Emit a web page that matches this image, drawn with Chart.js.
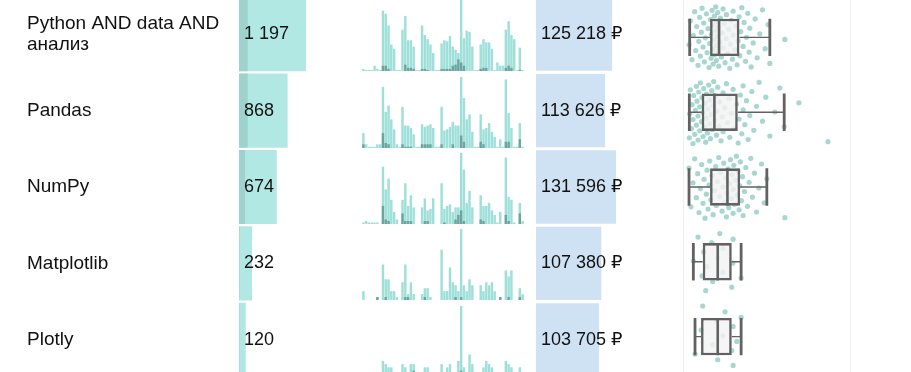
<!DOCTYPE html>
<html>
<head>
<meta charset="utf-8">
<script src="https://cdn.jsdelivr.net/npm/chart.js@4.4.0/dist/chart.umd.min.js"></script>
<style>
html,body{margin:0;padding:0;background:#fff;}
#wrap{position:relative;width:911px;height:372px;overflow:hidden;background:#fff;}
#wrap canvas{position:absolute;}
</style>
</head>
<body>
<div id="wrap"></div>
<script>
// ---------------- DATA ----------------
const categories = ['Python AND data AND анализ', 'Pandas', 'NumPy', 'Matplotlib', 'Plotly'];
const vacancies = [1197, 868, 674, 232, 120];
const vacanciesSubset = [155, 155, 107, 10, 6];
const avgSalary = [125218, 113626, 131596, 107380, 103705];

const dayLabels = Array.from({length: 58}, (_, i) => 'день ' + (i + 1));

const dailyPython = [2,1,1,1,5,2,1, 57,54,43,25,21,1,1, 39,52,29,29,23,1,1, 43,34,30,25,17,1,1, 26,29,28,33,23,20,17, 67,31,38,37,23,1,1, 25,30,27,27,21,1,8, 5,5,39,47,34,30,1, 22,1];
const dailyPythonSub = [0,0,0,0,0,0,0, 5,5,2,0,0,0,0, 0,6,3,3,2,0,0, 2,2,1,0,0,0,0, 2,2,2,2,5,6,11, 8,5,0,0,0,0,0, 2,3,3,0,0,0,0, 0,0,3,5,3,0,0, 1,0];
const dailyPandas = [12,3,1,1,1,3,3, 49,29,34,23,15,3,1, 33,18,18,16,11,1,1, 19,17,18,19,16,1,1, 33,14,15,17,21,18,18, 57,40,23,27,13,1,1, 27,15,16,20,13,9,1, 7,1,55,28,16,1,1, 20,1];
const dailyPandasSub = [3,0,0,0,0,0,0, 12,4,3,0,0,0,0, 3,1,1,1,0,0,0, 3,3,3,3,0,0,0, 3,0,0,0,3,0,0, 10,5,0,0,0,0,0, 5,3,0,0,0,0,0, 0,0,5,5,0,0,0, 7,0];
const dailyNumpy = [1,2,1,1,1,1,0, 38,23,30,16,8,3,0, 16,27,12,19,11,0,0, 11,17,9,10,17,0,0, 27,10,12,13,8,11,11, 47,36,14,22,11,0,0, 19,12,12,14,9,6,1, 8,0,44,18,16,1,0, 14,2];
const dailyNumpySub = [0,0,0,0,0,0,0, 12,3,2,0,0,0,0, 7,2,2,2,0,0,0, 0,2,2,0,0,0,0, 0,1,0,0,0,3,6, 9,2,0,0,0,0,0, 3,2,0,0,0,0,0, 0,0,6,2,0,0,0, 7,0];
const dailyMatplotlib = [3,0,0,0,0,1,0, 12,7,7,3,3,1,0, 6,12,2,6,2,0,0, 2,4,4,1,0,0,0, 17,3,3,11,6,5,3, 24,5,3,7,5,0,0, 5,3,6,5,6,3,0, 1,0,10,8,10,0,0, 4,2];
const dailyMatplotlibSub = [0,0,0,0,0,1,0, 0,1,0,0,0,0,0, 0,1,1,0,0,0,0, 0,1,0,0,0,0,0, 0,0,0,0,0,1,0, 1,0,0,0,0,0,0, 0,0,0,0,0,0,0, 1,0,0,1,0,0,0, 1,0];
const dailyPlotly = [0,0,0,0,0,0,0, 5,4,3,3,0,0,0, 4,3,0,4,4,0,0, 0,3,3,0,0,0,0, 4,0,3,4,0,0,5, 22,3,0,7,4,0,0, 0,3,5,4,3,0,0, 0,0,5,4,3,0,0, 3,0];
const dailyPlotlySub = [0,0,0,0,0,0,0, 0,0,0,1,0,0,0, 0,0,0,0,2,0,0, 0,0,0,0,0,0,0, 0,0,1,0,0,0,0, 2,0,0,0,0,0,0, 0,0,0,0,0,0,0, 0,0,0,0,0,0,0, 0,0];

// box-plot statistics (roubles)
const boxLow = [20000, 19000, 18000, 31000, 36000];
const boxQ1 = [81000, 56000, 81000, 59000, 54000];
const boxMedian = [108000, 94000, 133000, 104000, 104000];
const boxQ3 = [169000, 164000, 171000, 146000, 146000];
const boxHigh = [260000, 303000, 251000, 174000, 174000];

// individual salaries, thousands of roubles
const salPythonK = [18,22,27,31,35,38,41,45,47,50,52,55,57,60,62,64,67,70,72,75,78,80,
  82,84,85,87,89,90,90,92,94,95,96,98,100,100,100,102,104,105,106,107,
  110,112,115,117,120,120,123,126,129,130,134,137,140,142,145,148,150,150,155,158,162,165,168,
  170,173,176,180,183,187,190,194,198,200,204,210,216,222,230,238,246,255,260,305];
const salPandasK = [19,20,22,25,27,30,30,32,35,37,40,40,42,45,45,47,50,50,52,55,
  57,60,60,62,64,66,68,70,70,73,75,77,80,80,82,85,86,88,90,92,
  95,98,100,100,104,108,110,114,118,120,120,125,130,133,138,140,145,150,155,160,
  165,168,172,176,180,180,185,190,195,200,206,212,220,228,238,248,260,275,290,303,347,434];
const salNumpyK = [18,24,30,35,40,44,48,52,56,60,63,66,70,72,75,78,80,
  83,87,90,94,98,100,103,107,110,113,117,120,122,125,128,130,132,
  135,137,140,142,145,147,150,150,152,155,158,160,162,165,168,170,
  172,175,178,180,184,188,193,198,203,208,214,220,227,235,243,251,305];
const salMatplotlibK = [31,45,57,62,68,72,86,89,104,110,120,120,146,149,150,174];
const salPlotlyK = [36,54,59,89,100,104,119,126,146,150,150,161,174];

// ---------------- RENDER ----------------
const FONT = '"Liberation Sans", Arial, "DejaVu Sans", sans-serif';
Chart.defaults.font.family = FONT;
Chart.defaults.color = '#111';

const wrap = document.getElementById('wrap');
function addCanvas(left, top, w, h) {
  const c = document.createElement('canvas');
  c.width = w; c.height = h;
  c.style.left = left + 'px'; c.style.top = top + 'px';
  c.style.width = w + 'px'; c.style.height = h + 'px';
  wrap.appendChild(c);
  return c;
}
const fmt = n => String(n).replace(/\B(?=(\d{3})+(?!\d))/g, ' ');
function wrapLabel(s) {
  const words = s.split(' '); const lines = []; let cur = '';
  for (const w of words) {
    if (cur && (cur + ' ' + w).length > 19) { lines.push(cur); cur = w; }
    else cur = cur ? cur + ' ' + w : w;
  }
  lines.push(cur);
  return lines.length > 1 ? lines : lines[0];
}
const base = {
  responsive: false, maintainAspectRatio: false, animation: false, devicePixelRatio: 1,
  plugins: { legend: { display: false }, tooltip: { enabled: false } },
  events: []
};
function valueLabels(values, format, dx, dsIndex) {
  return {
    id: 'valueLabels',
    afterDatasetsDraw(chart) {
      const { ctx } = chart; const xs = chart.scales.x;
      const meta = chart.getDatasetMeta(dsIndex);
      ctx.save();
      ctx.font = '18px ' + FONT; ctx.fillStyle = '#111';
      ctx.textAlign = 'left'; ctx.textBaseline = 'middle';
      meta.data.forEach((el, i) => ctx.fillText(format(values[i]), xs.getPixelForValue(0) + dx, el.y));
      ctx.restore();
    }
  };
}

const TOP = -4, H = 382, PITCH = H / categories.length;

// Column 1+2: labels + vacancy counts
new Chart(addCanvas(0, TOP, 351, H), {
  type: 'bar',
  data: { labels: categories, datasets: [
    { data: vacanciesSubset, backgroundColor: '#9ed2cd', grouped: false, order: 0, barPercentage: 0.97, categoryPercentage: 1 },
    { data: vacancies, backgroundColor: '#b1e8e3', grouped: false, order: 1, barPercentage: 0.97, categoryPercentage: 1 }
  ]},
  options: Object.assign({}, base, {
    indexAxis: 'y',
    layout: { padding: { left: 27, right: 0, top: 0, bottom: 0 } },
    scales: {
      x: { display: false, min: 0, max: 2000 },
      y: { grid: { display: false }, border: { display: false },
        afterFit: s => { s.width = 212; s.paddingTop = 0; s.paddingBottom = 0; },
        ticks: { autoSkip: false, crossAlign: 'far', padding: 0, color: '#111',
          font: { size: 19, lineHeight: 1.1 }, callback: (v, i) => wrapLabel(categories[i]) } }
    }
  }),
  plugins: [valueLabels(vacancies, fmt, 5, 1)]
});

// Column 3: daily histograms
const dailyAll = [dailyPython, dailyPandas, dailyNumpy, dailyMatplotlib, dailyPlotly];
const dailySub = [dailyPythonSub, dailyPandasSub, dailyNumpySub, dailyMatplotlibSub, dailyPlotlySub];
dailyAll.forEach((arr, r) => {
  const top = Math.round(TOP + PITCH * r + 4.2);
  new Chart(addCanvas(362, top, 162, 71), {
    type: 'bar',
    data: { labels: dayLabels, datasets: [
      { data: dailySub[r], backgroundColor: 'rgba(95,150,144,0.8)', grouped: false, order: 0, barPercentage: 0.88, categoryPercentage: 1 },
      { data: arr, backgroundColor: '#9ee0d9', grouped: false, order: 1, barPercentage: 0.88, categoryPercentage: 1 }
    ]},
    options: Object.assign({}, base, {
      layout: { padding: 0 },
      scales: { x: { display: false }, y: { display: false, min: 0, max: Math.max(...arr) } }
    })
  });
});

// Column 4: average salary
new Chart(addCanvas(536, TOP, 146, H), {
  type: 'bar',
  data: { labels: categories, datasets: [
    { data: avgSalary, backgroundColor: '#cfe2f3', barPercentage: 0.96, categoryPercentage: 1 }
  ]},
  options: Object.assign({}, base, {
    indexAxis: 'y',
    layout: { padding: 0 },
    scales: { x: { display: false, min: 0, max: 240000 }, y: { display: false } }
  }),
  plugins: [valueLabels(avgSalary, v => fmt(v) + ' ₽', 5, 0)]
});

// Column 5: box plots with jittered salaries
const salaryPoints = [salPythonK, salPandasK, salNumpyK, salMatplotlibK, salPlotlyK];
const jitter = (k, r) => ((((k + 1) * 0.6180339887 + r * 0.29) % 1) - 0.5) * 0.84;
const pts = [];
salaryPoints.forEach((arr, r) => arr.forEach((v, k) => pts.push({ x: v * 1000, y: r + jitter(k, r) })));
const gap = { x: null, y: null };
const whiskers = [], caps = [], medians = [];
categories.forEach((_, r) => {
  whiskers.push({ x: boxLow[r], y: r }, { x: boxQ1[r], y: r }, gap, { x: boxQ3[r], y: r }, { x: boxHigh[r], y: r }, gap);
  caps.push({ x: boxLow[r], y: r - 0.25 }, { x: boxLow[r], y: r + 0.25 }, gap, { x: boxHigh[r], y: r - 0.25 }, { x: boxHigh[r], y: r + 0.25 }, gap);
  medians.push({ x: boxMedian[r], y: r - 0.25 }, { x: boxMedian[r], y: r + 0.25 }, gap);
});
new Chart(addCanvas(670, TOP, 200, H), {
  type: 'scatter',
  data: { datasets: [
    { type: 'scatter', data: pts, pointRadius: 2.6, pointBorderWidth: 0, pointBackgroundColor: 'rgba(96,182,170,0.55)', order: 5 },
    { type: 'bar', indexAxis: 'y', data: categories.map((_, r) => ({ y: r, x: [boxQ1[r], boxQ3[r]] })),
      backgroundColor: 'rgba(243,243,243,0.82)', borderColor: '#626262', borderWidth: 2.6, borderSkipped: false,
      grouped: false, barPercentage: 0.5, categoryPercentage: 1, order: 2 },
    { type: 'scatter', showLine: true, data: whiskers, borderColor: '#626262', borderWidth: 1.4, pointRadius: 0, spanGaps: false, order: 1 },
    { type: 'scatter', showLine: true, data: caps, borderColor: '#626262', borderWidth: 2.8, pointRadius: 0, spanGaps: false, borderCapStyle: 'butt', order: 0 },
    { type: 'scatter', showLine: true, data: medians, borderColor: '#626262', borderWidth: 2.6, pointRadius: 0, spanGaps: false, borderCapStyle: 'butt', order: 0 }
  ]},
  options: Object.assign({}, base, {
    layout: { padding: { left: 13, right: 20, top: 0, bottom: 0 } },
    scales: {
      x: { type: 'linear', min: 0, max: 500000, offset: false,
        afterBuildTicks: s => { s.ticks = [{ value: 0 }, { value: 500000 }]; },
        ticks: { display: false }, grid: { color: '#efefef', drawTicks: false, offset: false }, border: { display: false } },
      y: { type: 'linear', min: -0.5, max: 4.5, reverse: true, display: false, offset: false,
        afterBuildTicks: s => { s.ticks = categories.map((_, i) => ({ value: i })); } }
    }
  })
});
</script>
</body>
</html>
